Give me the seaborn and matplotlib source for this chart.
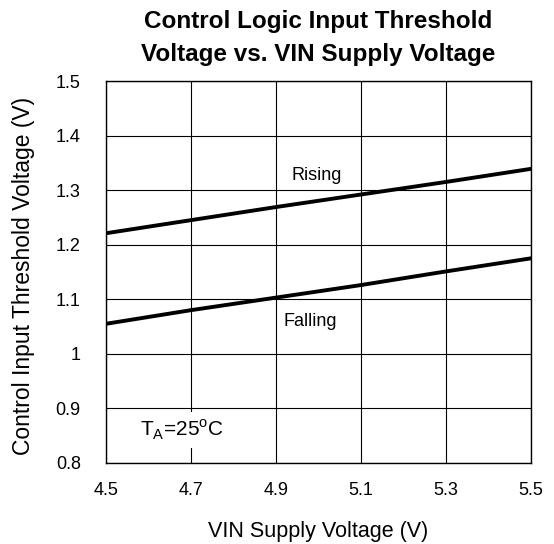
import matplotlib
matplotlib.use("Agg")
import matplotlib.pyplot as plt
import seaborn as sns
import pandas as pd
from matplotlib.ticker import FormatStrFormatter, FuncFormatter

# data
vin = [4.5, 4.7, 4.9, 5.1, 5.3, 5.5]
rising = [1.221, 1.245, 1.269, 1.292, 1.315, 1.339]
falling = [1.055, 1.080, 1.103, 1.126, 1.151, 1.175]
x_ticks = [4.5, 4.7, 4.9, 5.1, 5.3, 5.5]
y_ticks = [0.8, 0.9, 1.0, 1.1, 1.2, 1.3, 1.4, 1.5]

df = pd.DataFrame({
    "VIN": vin * 2,
    "Threshold": rising + falling,
    "Edge": ["Rising"] * len(vin) + ["Falling"] * len(vin),
})

sns.set_style("white")
plt.rcParams["font.family"] = ["Liberation Sans", "DejaVu Sans"]
plt.rcParams["mathtext.fontset"] = "custom"
plt.rcParams["mathtext.rm"] = "Liberation Sans"
plt.rcParams["text.color"] = "black"
plt.rcParams["axes.labelcolor"] = "black"

fig = plt.figure(figsize=(5.54, 5.44), dpi=100)
ax = fig.add_axes([0.191, 0.149, 0.767, 0.702])

sns.lineplot(data=df, x="VIN", y="Threshold", hue="Edge",
             palette={"Rising": "black", "Falling": "black"},
             linewidth=2.8, legend=False, ax=ax, zorder=3)

ax.set_xlim(4.5, 5.5)
ax.set_ylim(0.8, 1.5)
ax.set_xticks(x_ticks)
ax.set_yticks(y_ticks)
ax.xaxis.set_major_formatter(FormatStrFormatter("%.1f"))
ax.yaxis.set_major_formatter(FuncFormatter(lambda v, p: "%g" % round(v, 2)))
ax.grid(True, color="black", linewidth=0.8)
ax.set_axisbelow(True)
for s in ax.spines.values():
    s.set_color("black")
    s.set_linewidth(1.0)
ax.tick_params(axis="both", length=0, labelsize=13, colors="black")
ax.tick_params(axis="y", pad=18)
ax.tick_params(axis="x", pad=14)

ax.set_xlabel("VIN Supply Voltage (V)", fontsize=15.5, color="black")
ax.set_ylabel("Control Input Threshold Voltage (V)", fontsize=16.5, color="black")
ax.xaxis.set_label_coords(0.5, -0.152)
ax.yaxis.set_label_coords(-0.167, 0.49)

ax.set_title("Control Logic Input Threshold\nVoltage vs. VIN Supply Voltage",
             fontsize=17.5, fontweight="bold", linespacing=1.55, pad=14.5,
             color="black")

ax.text(4.997, 1.326, "Rising", fontsize=13, ha="center", va="center", color="black")
ax.text(4.982, 1.059, "Falling", fontsize=13, ha="center", va="center", color="black")
ax.text(4.68, 0.86, r"T$_\mathregular{A}$=25$^\mathregular{o}$C", fontsize=15,
        ha="center", va="center", color="black",
        bbox=dict(facecolor="white", edgecolor="none", pad=4))

fig.savefig("out.png", dpi=100)
